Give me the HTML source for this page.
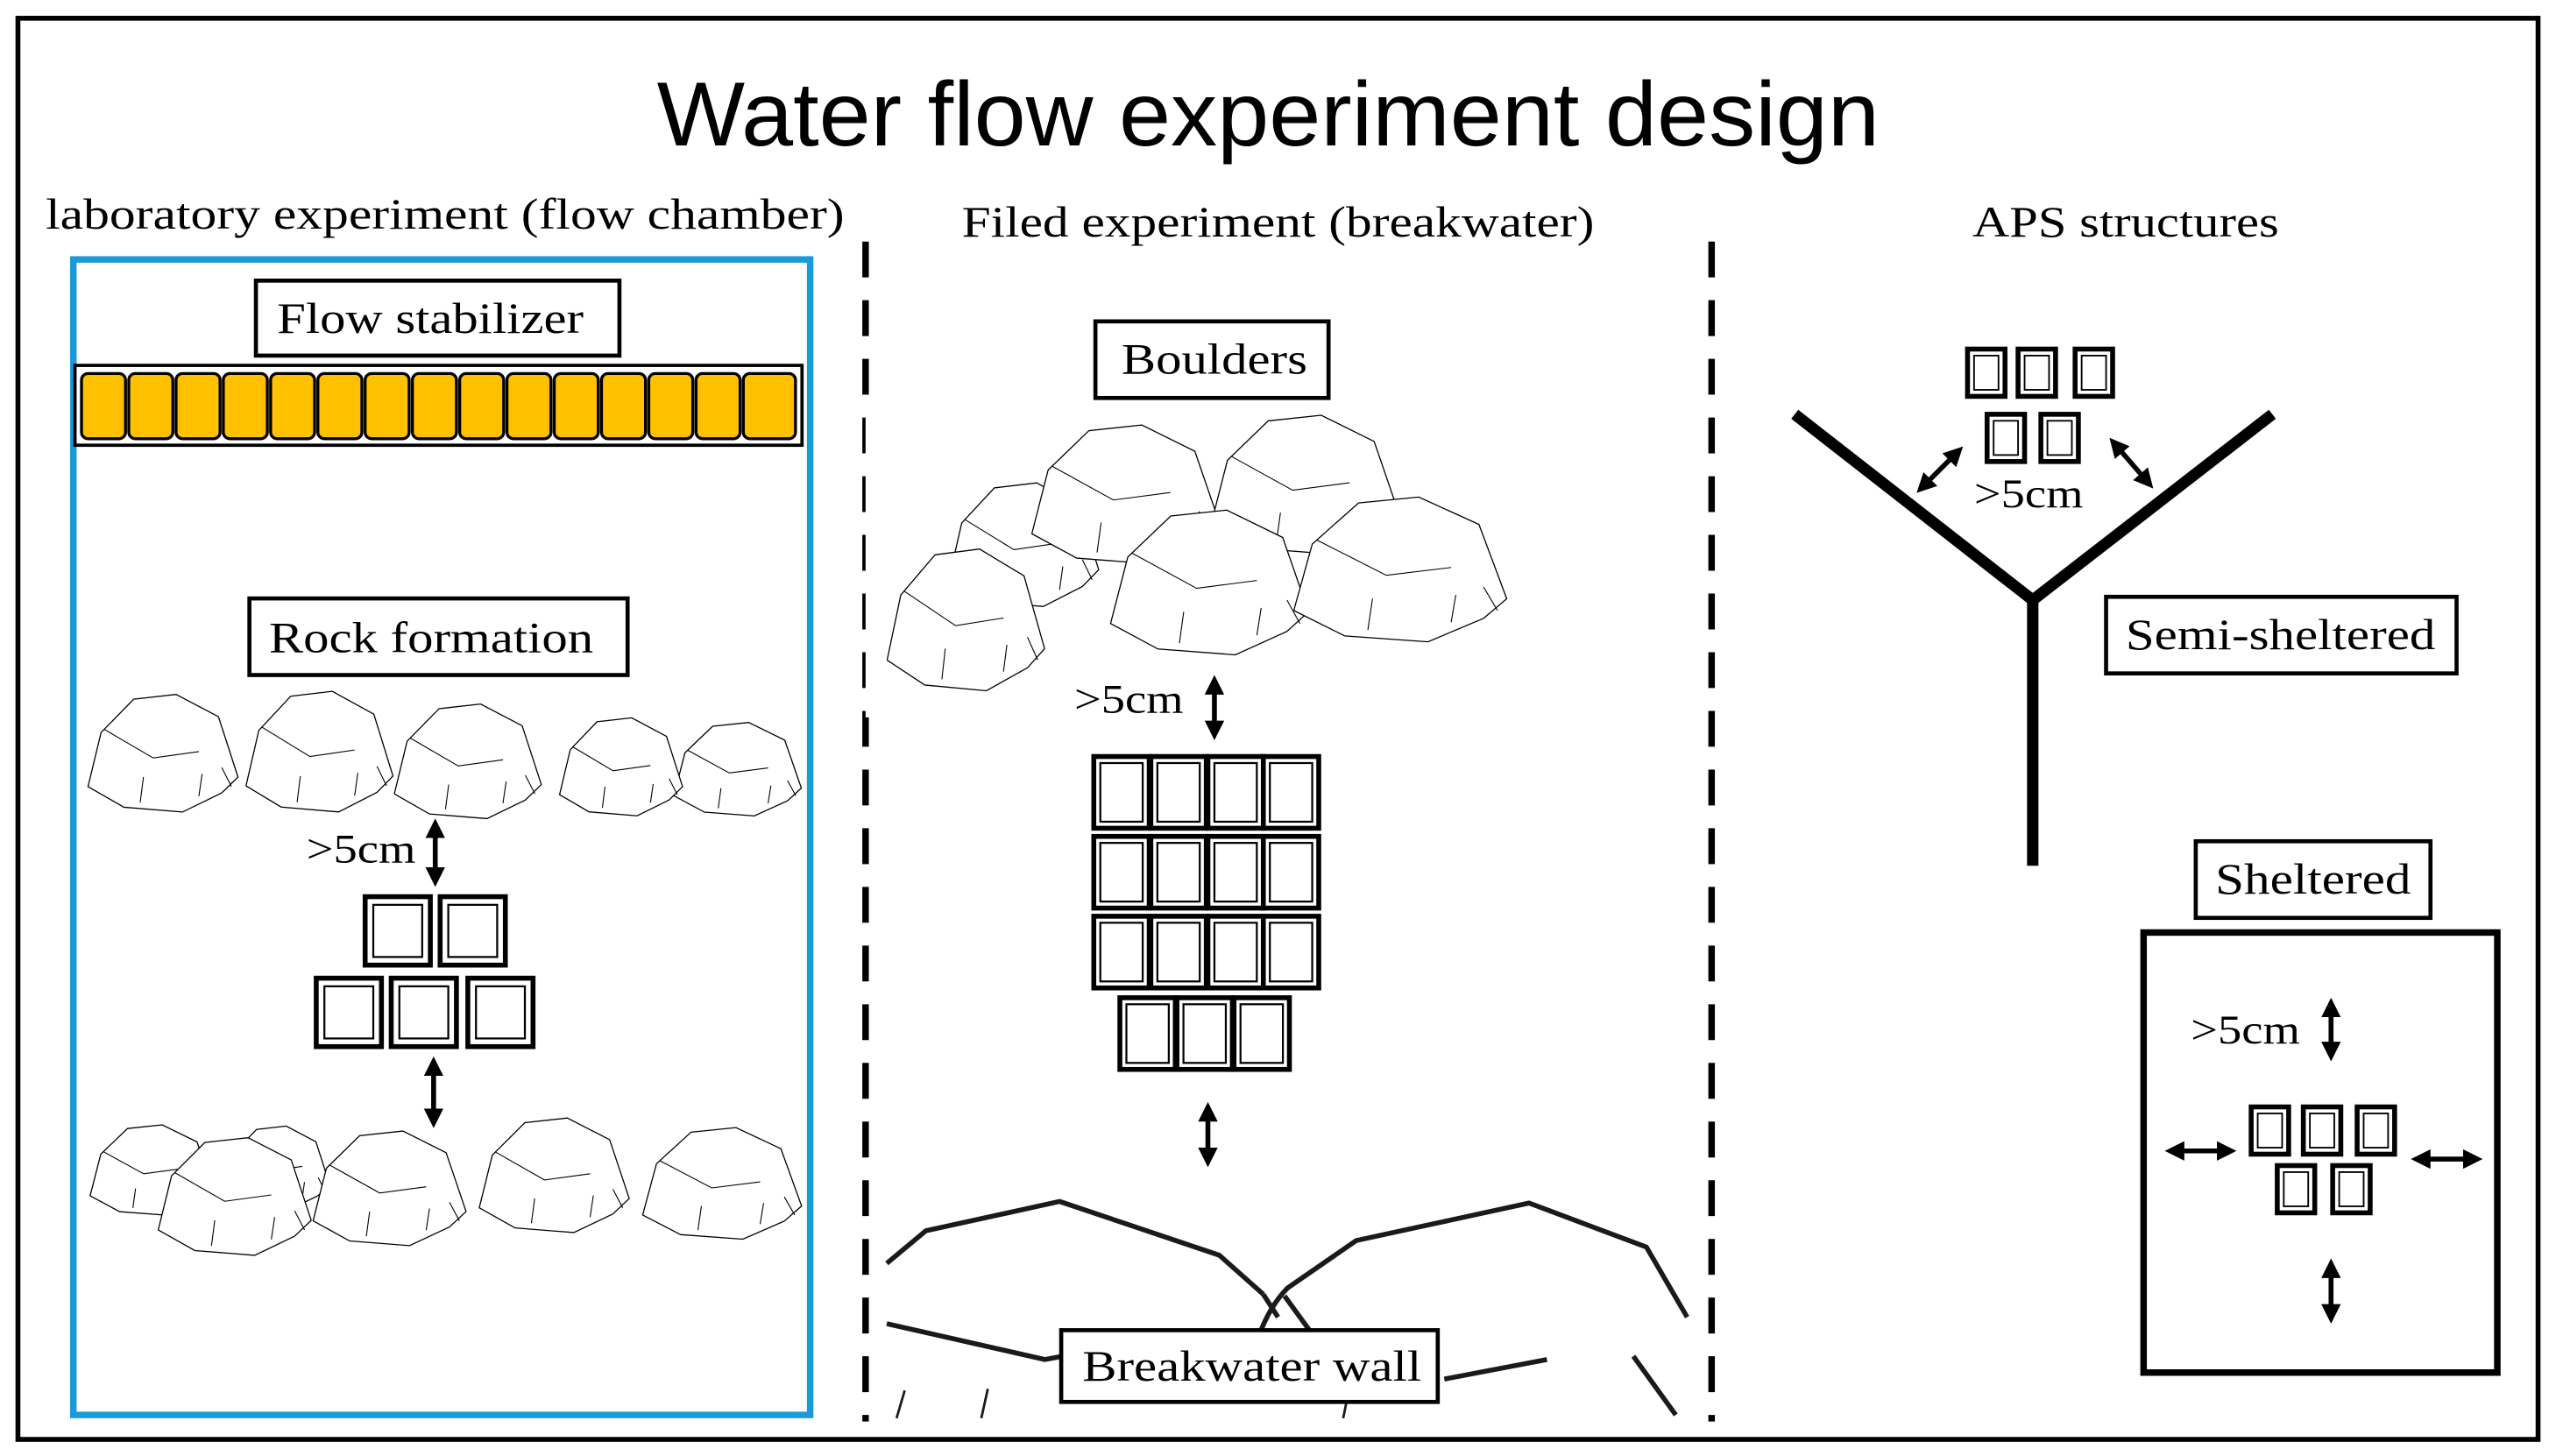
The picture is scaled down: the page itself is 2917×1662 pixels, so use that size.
<!DOCTYPE html>
<html><head><meta charset="utf-8"><style>
html,body{margin:0;padding:0;background:#fff;}
svg{display:block;}
.s{font-family:"Liberation Serif",serif;fill:#000;}
.b{fill:#fff;stroke:#000;stroke-width:2.5;}
</style></head><body>
<svg width="2917" height="1662" viewBox="0 0 1568 893" xmlns="http://www.w3.org/2000/svg">
<defs>
<marker id="ah" viewBox="0 0 10 10" refX="5" refY="5" markerWidth="4" markerHeight="4" orient="auto-start-reverse"><path d="M0,0 L10,5 L0,10 Z" fill="#000"/></marker>
<symbol id="rock" viewBox="0 0 100 80" preserveAspectRatio="none">
<path d="M12,28 L32,7 L58,4 L84,18 L96,56 L86,66 L62,78 L26,75 L4,62 Z" fill="#fff" stroke="#000" stroke-width="1.3" vector-effect="non-scaling-stroke"/>
<path d="M14,26 L44,44 L72,40 M38,56 L36,72 M74,54 L72,68 M86,50 L92,62" fill="none" stroke="#000" stroke-width="1.1" vector-effect="non-scaling-stroke"/>
</symbol>
<g id="brk"><rect x="0" y="0" width="34" height="44" fill="#fff" stroke="#000" stroke-width="3"/><rect x="4" y="4" width="26" height="36" fill="none" stroke="#000" stroke-width="1.2"/></g>
<g id="sq"><rect x="0" y="0" width="40" height="42" fill="#fff" stroke="#000" stroke-width="3"/><rect x="5" y="5" width="30" height="32" fill="none" stroke="#000" stroke-width="1.2"/></g>
<g id="sm"><rect x="0" y="0" width="23" height="29" fill="#fff" stroke="#000" stroke-width="3"/><rect x="4" y="4" width="15" height="21" fill="none" stroke="#000" stroke-width="1"/></g>
</defs>
<rect x="0" y="0" width="1568" height="893" fill="#fff"/>
<rect x="11" y="11" width="1546" height="872" fill="none" stroke="#000" stroke-width="3"/>
<text x="403" y="89" font-family="Liberation Sans, sans-serif" font-size="56" textLength="750" lengthAdjust="spacingAndGlyphs">Water flow experiment design</text>
<text class="s" x="28" y="140" font-size="27" textLength="490" lengthAdjust="spacingAndGlyphs">laboratory experiment (flow chamber)</text>
<text class="s" x="590" y="145" font-size="27" textLength="388" lengthAdjust="spacingAndGlyphs">Filed experiment (breakwater)</text>
<text class="s" x="1210" y="145" font-size="27" textLength="188" lengthAdjust="spacingAndGlyphs">APS structures</text>
<line x1="531" y1="148" x2="531" y2="872" stroke="#000" stroke-width="4" stroke-dasharray="22,14"/>
<line x1="1050" y1="148" x2="1050" y2="872" stroke="#000" stroke-width="4" stroke-dasharray="22,14"/>
<!-- lab -->
<rect x="45" y="159" width="452" height="709" fill="none" stroke="#1a9ad6" stroke-width="4"/>
<rect class="b" x="157" y="172" width="223" height="46"/>
<text class="s" x="170" y="204" font-size="27" textLength="188" lengthAdjust="spacingAndGlyphs">Flow stabilizer</text>
<rect x="46" y="224" width="446" height="49" fill="#fff" stroke="#000" stroke-width="2"/>
<g fill="#FFC000" stroke="#000" stroke-width="1.8">
<rect x="50" y="229" width="27" height="40" rx="4"/><rect x="79" y="229" width="27" height="40" rx="4"/><rect x="108" y="229" width="27" height="40" rx="4"/><rect x="137" y="229" width="27" height="40" rx="4"/><rect x="166" y="229" width="27" height="40" rx="4"/><rect x="195" y="229" width="27" height="40" rx="4"/><rect x="224" y="229" width="27" height="40" rx="4"/><rect x="253" y="229" width="27" height="40" rx="4"/><rect x="282" y="229" width="27" height="40" rx="4"/><rect x="311" y="229" width="27" height="40" rx="4"/><rect x="340" y="229" width="27" height="40" rx="4"/><rect x="369" y="229" width="27" height="40" rx="4"/><rect x="398" y="229" width="27" height="40" rx="4"/><rect x="427" y="229" width="27" height="40" rx="4"/><rect x="456" y="229" width="32" height="40" rx="4"/>
</g>
<rect class="b" x="153" y="367" width="232" height="47"/>
<text class="s" x="165" y="400" font-size="27" textLength="199" lengthAdjust="spacingAndGlyphs">Rock formation</text>
<use href="#rock" x="410" y="440" width="85" height="62"/>
<use href="#rock" x="340" y="437" width="82" height="65"/>
<use href="#rock" x="238" y="428" width="98" height="76"/>
<use href="#rock" x="147" y="420" width="98" height="80"/>
<use href="#rock" x="50" y="422" width="100" height="78"/>
<text class="s" x="188" y="529" font-size="25" textLength="67" lengthAdjust="spacingAndGlyphs">&gt;5cm</text>
<line x1="267" y1="508" x2="267" y2="538" stroke="#000" stroke-width="3" marker-start="url(#ah)" marker-end="url(#ah)"/>
<use href="#sq" x="224" y="550"/><use href="#sq" x="270" y="550"/>
<use href="#sq" x="194" y="600"/><use href="#sq" x="240" y="600"/><use href="#sq" x="287" y="600"/>
<line x1="266" y1="654" x2="266" y2="686" stroke="#000" stroke-width="3" marker-start="url(#ah)" marker-end="url(#ah)"/>
<use href="#rock" x="52" y="687" width="82" height="60"/>
<use href="#rock" x="135" y="688" width="70" height="55"/>
<use href="#rock" x="390" y="688" width="106" height="74"/>
<use href="#rock" x="290" y="682" width="100" height="76"/>
<use href="#rock" x="188" y="690" width="102" height="76"/>
<use href="#rock" x="93" y="694" width="102" height="78"/>
<!-- field -->
<rect class="b" x="672" y="197" width="143" height="47"/>
<text class="s" x="688" y="229" font-size="27" textLength="114" lengthAdjust="spacingAndGlyphs">Boulders</text>
<use href="#rock" x="578" y="292" width="100" height="82"/>
<use href="#rock" x="628" y="256" width="125" height="92"/>
<use href="#rock" x="738" y="250" width="125" height="92"/>
<use href="#rock" x="540" y="332" width="105" height="94"/>
<use href="#rock" x="676" y="308" width="132" height="96"/>
<use href="#rock" x="788" y="300" width="142" height="96"/>
<rect x="531" y="250" width="13" height="190" fill="#fff"/>
<text class="s" x="659" y="437" font-size="25" textLength="67" lengthAdjust="spacingAndGlyphs">&gt;5cm</text>
<line x1="745" y1="420" x2="745" y2="448" stroke="#000" stroke-width="3" marker-start="url(#ah)" marker-end="url(#ah)"/>
<use href="#brk" x="671" y="464"/><use href="#brk" x="706" y="464"/><use href="#brk" x="741" y="464"/><use href="#brk" x="775" y="464"/>
<use href="#brk" x="671" y="513"/><use href="#brk" x="706" y="513"/><use href="#brk" x="741" y="513"/><use href="#brk" x="775" y="513"/>
<use href="#brk" x="671" y="562"/><use href="#brk" x="706" y="562"/><use href="#brk" x="741" y="562"/><use href="#brk" x="775" y="562"/>
<use href="#brk" x="687" y="612"/><use href="#brk" x="722" y="612"/><use href="#brk" x="757" y="612"/>
<line x1="741" y1="682" x2="741" y2="710" stroke="#000" stroke-width="3" marker-start="url(#ah)" marker-end="url(#ah)"/>
<g fill="none" stroke="#1a1a1a" stroke-width="3" stroke-linejoin="round">
<path d="M544,775 L568,755 L650,737 L748,770 L775,794"/>
<path d="M767,838 C772,815 780,800 790,790 L832,761 L938,738 L1010,765 L1035,808"/>
<path d="M775,794 L784,808"/>
<path d="M788,795 L804,817 L857,834"/>
<path d="M544,812 L641,834 L700,823"/>
<path d="M886,846 L949,834"/>
<path d="M1002,832 L1028,868"/>
</g>
<g fill="none" stroke="#1a1a1a" stroke-width="1.5"><path d="M555,853 L550,870 M606,852 L602,870 M826,860 L824,870"/></g>
<rect class="b" x="651" y="816" width="231" height="44"/>
<text class="s" x="664" y="847" font-size="27" textLength="208" lengthAdjust="spacingAndGlyphs">Breakwater wall</text>
<!-- APS -->
<g stroke="#000" stroke-width="7" fill="none">
<path d="M1101,254 L1247,368 L1394,254"/>
<line x1="1247" y1="365" x2="1247" y2="531"/>
</g>
<use href="#sm" x="1207" y="214"/><use href="#sm" x="1238" y="214"/><use href="#sm" x="1273" y="214"/>
<use href="#sm" x="1219" y="254"/><use href="#sm" x="1252" y="254"/>
<line x1="1180" y1="298" x2="1200" y2="278" stroke="#000" stroke-width="3" marker-start="url(#ah)" marker-end="url(#ah)"/>
<line x1="1298" y1="273" x2="1317" y2="295" stroke="#000" stroke-width="3" marker-start="url(#ah)" marker-end="url(#ah)"/>
<text class="s" x="1211" y="311" font-size="25" textLength="67" lengthAdjust="spacingAndGlyphs">&gt;5cm</text>
<rect class="b" x="1292" y="366" width="215" height="47"/>
<text class="s" x="1304" y="398" font-size="27" textLength="190" lengthAdjust="spacingAndGlyphs">Semi-sheltered</text>
<rect class="b" x="1347" y="516" width="144" height="47"/>
<text class="s" x="1359" y="548" font-size="27" textLength="120" lengthAdjust="spacingAndGlyphs">Sheltered</text>
<rect x="1315" y="572" width="217" height="270" fill="none" stroke="#000" stroke-width="4"/>
<text class="s" x="1344" y="640" font-size="25" textLength="67" lengthAdjust="spacingAndGlyphs">&gt;5cm</text>
<line x1="1430" y1="618" x2="1430" y2="645" stroke="#000" stroke-width="3" marker-start="url(#ah)" marker-end="url(#ah)"/>
<use href="#sm" x="1381" y="679"/><use href="#sm" x="1413" y="679"/><use href="#sm" x="1446" y="679"/>
<use href="#sm" x="1397" y="715"/><use href="#sm" x="1431" y="715"/>
<line x1="1334" y1="706" x2="1366" y2="706" stroke="#000" stroke-width="3" marker-start="url(#ah)" marker-end="url(#ah)"/>
<line x1="1485" y1="711" x2="1517" y2="711" stroke="#000" stroke-width="3" marker-start="url(#ah)" marker-end="url(#ah)"/>
<line x1="1430" y1="778" x2="1430" y2="806" stroke="#000" stroke-width="3" marker-start="url(#ah)" marker-end="url(#ah)"/>
</svg>
</body></html>
